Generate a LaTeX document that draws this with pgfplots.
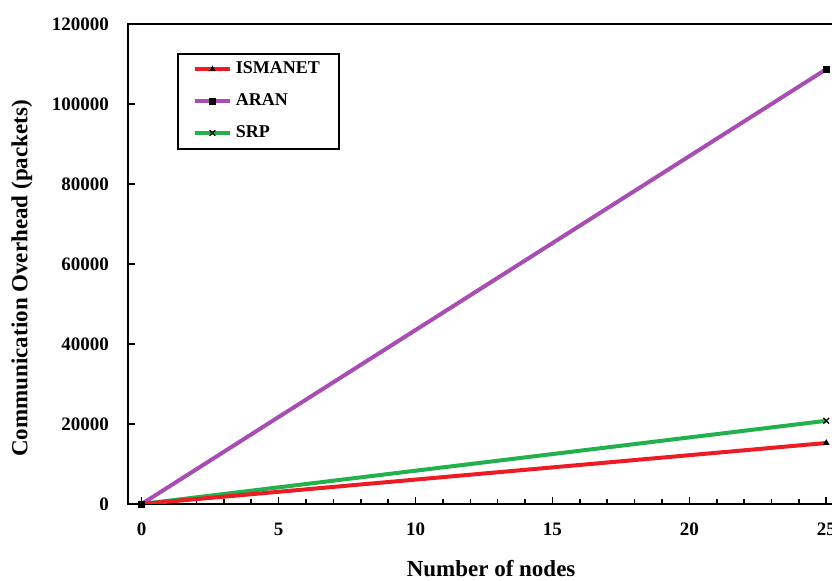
\documentclass[border=0pt]{standalone}
\usepackage{fontspec}
\setmainfont{Liberation Serif}
\usepackage{pgfplots}
\pgfplotsset{compat=1.18}
\definecolor{cred}{RGB}{237,28,36}
\definecolor{cpurple}{RGB}{168,78,178}
\definecolor{cgreen}{RGB}{34,177,76}
\begin{document}
\begin{tikzpicture}
\useasboundingbox (-64pt,-38.5pt) rectangle (352pt,252pt);
\clip (-64pt,-38.5pt) rectangle (352pt,252pt);
\begin{axis}[
  at={(0pt,0pt)}, anchor=south west,
  width=356pt, height=240pt, scale only axis,
  xmin=-0.5, xmax=25.5, ymin=0, ymax=120000,
  xtick={0,5,10,15,20,25}, minor xtick={1,2,3,4,6,7,8,9,11,12,13,14,16,17,18,19,21,22,23,24},
  ytick={0,20000,40000,60000,80000,100000,120000},
  scaled y ticks=false,
  /pgf/number format/fixed, /pgf/number format/precision=0,
  /pgf/number format/1000 sep={},
  /pgf/number format/assume math mode=true,
  tick align=inside, tick pos=left,
  major tick length=3.5pt, minor tick length=2.5pt,
  axis line style={line width=1pt},
  every tick/.style={black, line width=0.8pt},
  tick label style={font=\bfseries\fontsize{9.5}{11}\selectfont},
  yticklabel style={xshift=-6pt},
  xticklabel style={yshift=-6pt},
  xlabel={Number of nodes},
  ylabel={Communication Overhead (packets)},
  every axis x label/.style={at={(axis description cs:0.51,-0.134)}, anchor=center, font=\bfseries\fontsize{11.5}{13}\selectfont},
  every axis y label/.style={at={(axis description cs:-0.149,0.47)}, rotate=90, anchor=center, font=\bfseries\fontsize{11.5}{13}\selectfont},
  legend style={at={(axis description cs:0.0688,0.94)}, anchor=north west,
    draw=black, line width=1pt, font=\bfseries\fontsize{9}{11}\selectfont,
    inner xsep=7.5pt, inner ysep=2pt, row sep=4.5pt,
    /tikz/every even column/.append style={column sep=5pt}},
  legend cell align=left,
  reverse legend,
  legend image code/.code={\draw[mark repeat=2,mark phase=2,#1] plot coordinates {(0pt,0pt) (8.75pt,0pt) (17.5pt,0pt)};},
]
\addplot[cgreen, line width=2pt, mark=x, mark size=2pt, mark options={black, line width=0.6pt}] coordinates {(0,0) (25,20800)};
\addplot[cpurple, line width=2pt, mark=square*, mark size=1.5pt, mark options={black, fill=black, line width=0.4pt}] coordinates {(0,0) (25,108700)};
\addplot[cred, line width=2pt, mark=triangle*, mark size=1.5pt, mark options={black, fill=black, line width=0.4pt}] coordinates {(0,0) (25,15250)};
\legend{SRP, ARAN, ISMANET}
\end{axis}
\end{tikzpicture}
\end{document}
